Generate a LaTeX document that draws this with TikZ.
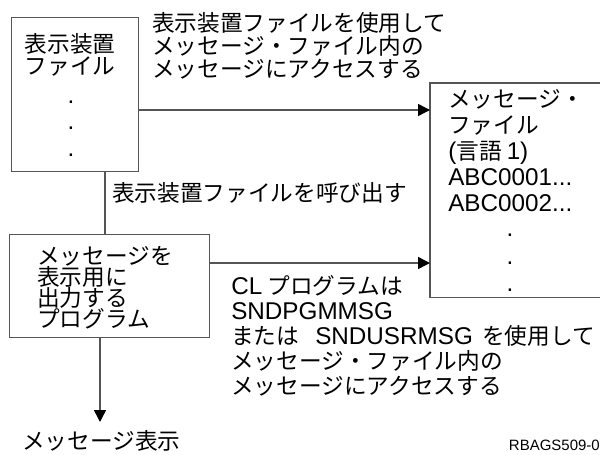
\documentclass[tikz,border=0pt]{standalone}
\usepackage{fontspec}
\setmainfont{Noto Sans CJK JP}
\newfontfamily\lat[Scale=1.07]{Liberation Sans}
\usetikzlibrary{arrows.meta}
\definecolor{linegray}{RGB}{85,85,85}
\begin{document}
\begin{tikzpicture}[x=0.75pt,y=-0.75pt,
  box/.style={draw=linegray, line width=1.1pt, inner sep=0pt, anchor=north west},
  txt/.style={inner sep=0pt, align=left, anchor=north west},
  conn/.style={draw=linegray, line width=1.1pt},
  arr/.style={conn, -{Triangle[length=9pt,width=9pt,color=black]}},
  dot/.style={inner sep=0pt, font=\lat\fontsize{17}{18}\selectfont}]
\path[use as bounding box] (0,0) rectangle (600,454);

% boxes
\node[box, minimum width=95.25pt, minimum height=115.5pt] (disp) at (11,17) {};
\node[box, minimum width=150pt, minimum height=77.25pt] (prog) at (9,234) {};
\node[inner sep=0pt, anchor=north west, minimum width=127.5pt, minimum height=160.5pt] (msg) at (430,83) {};
\draw[conn] (msg.north east) -- (msg.north west) -- (msg.south west) -- (msg.south east);

% box texts
\node[txt, align=center, anchor=north, font=\fontsize{17}{16.5}\selectfont] (dispt) at (70,33) {表示装置\\ファイル};
\node[dot] (dd1) at (71,102) {.};
\node[dot] (dd2) at (71,128) {.};
\node[dot] (dd3) at (71,155) {.};

\node[txt, font=\fontsize{17}{15.9}\selectfont] (progt) at (37,246) {メッセージを\\表示用に\\出力する\\プログラム};

\node[txt, font=\fontsize{17}{19.5}\selectfont] (msgt) at (448,89) {メッセージ・\\ファイル\\{\lat(}言語 {\lat 1)}\\{\lat ABC0001...}\\{\lat ABC0002...}};
\node[dot] (md1) at (510,235) {.};
\node[dot] (md2) at (510,263) {.};
\node[dot] (md3) at (510,290) {.};

% labels
\node[txt, font=\fontsize{17}{17.25}\selectfont] (lab1) at (152,12) {表示装置ファイルを使用して\\メッセージ・ファイル内の\\メッセージにアクセスする};
\node[txt, font=\fontsize{17}{18}\selectfont] (lab2) at (112,182) {表示装置ファイルを呼び出す};
\node[txt, font=\fontsize{17}{18.7}\selectfont] (lab3) at (231,275) {{\lat CL}\hspace{4pt}プログラムは\\{\lat SNDPGMMSG}\\または\hspace{12pt}{\lat SNDUSRMSG}\hspace{7pt}を使用して\\メッセージ・ファイル内の\\メッセージにアクセスする};
\node[txt, font=\fontsize{17}{18}\selectfont] (show) at (22,430) {メッセージ表示};
\node[inner sep=0pt, anchor=north east, font=\lat\fontsize{10.5}{12}\selectfont] (ref) at (600,440) {RBAGS509-0};

% connectors
\draw[arr] (disp.east |- 0,110) -- (msg.west |- 0,110);
\draw[conn] (disp.south -| 105,0) -- (prog.north -| 105,0);
\draw[arr] (prog.east |- 0,263) -- (msg.west |- 0,263);
\draw[arr] (prog.south -| 100,0) -- (100,422);
\end{tikzpicture}
\end{document}
